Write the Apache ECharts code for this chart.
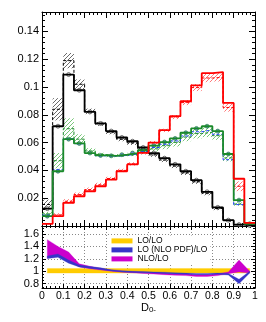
<!DOCTYPE html>
<html><head><meta charset="utf-8">
<script src="https://cdn.jsdelivr.net/npm/echarts@6/dist/echarts.min.js"></script>
<style>html,body{margin:0;padding:0;background:#fff}#c{width:266px;height:322px}</style>
</head><body><div id="c"></div>
<script>
// ---- data ----
const binEdges = [0, 0.05, 0.1, 0.15, 0.2, 0.25, 0.3, 0.35, 0.4, 0.45, 0.5, 0.55, 0.6, 0.65, 0.7, 0.75, 0.8, 0.85, 0.9, 0.95, 1.0];
const blackLO  = [0.0125, 0.0718, 0.1090, 0.0977, 0.0821, 0.0738, 0.0683, 0.0637, 0.0610, 0.0565, 0.0525, 0.0488, 0.0444, 0.0394, 0.0330, 0.0246, 0.0134, 0.0042, 0.0010, 0.0004];
const blackNLO = [0.0155, 0.0840, 0.1190, 0.1020, 0.0825, 0.0735, 0.0675, 0.0625, 0.0598, 0.0552, 0.0512, 0.0475, 0.0432, 0.0382, 0.0318, 0.0236, 0.0126, 0.0038, 0.0009, 0.0004];
const blackErr = [0.0035, 0.0080, 0.0055, 0.0035, 0.0020, 0.0015, 0.0015, 0.0015, 0.0015, 0.0015, 0.0015, 0.0015, 0.0015, 0.0015, 0.0015, 0.0015, 0.0012, 0.0008, 0.0004, 0.0002];
const greenLO  = [0.0071, 0.0394, 0.0625, 0.0594, 0.0525, 0.0508, 0.0505, 0.0513, 0.0525, 0.0545, 0.0578, 0.0604, 0.0630, 0.0671, 0.0702, 0.0718, 0.0683, 0.0518, 0.0186, 0.0016];
const greenNLO = [0.0087, 0.0470, 0.0700, 0.0625, 0.0540, 0.0515, 0.0505, 0.0508, 0.0515, 0.0530, 0.0555, 0.0578, 0.0602, 0.0640, 0.0665, 0.0675, 0.0650, 0.0490, 0.0158, 0.0015];
const greenErr = [0.0015, 0.0055, 0.0075, 0.0035, 0.0020, 0.0012, 0.0010, 0.0010, 0.0012, 0.0015, 0.0020, 0.0025, 0.0030, 0.0030, 0.0035, 0.0035, 0.0030, 0.0025, 0.0012, 0.0003];
const blueNLOPDF = [0.0078, 0.0405, 0.0628, 0.0592, 0.0522, 0.0505, 0.0502, 0.0508, 0.0518, 0.0536, 0.0565, 0.0588, 0.0612, 0.0648, 0.0678, 0.0692, 0.0660, 0.0477, 0.0154, 0.0015];
const redLO    = [0.0016, 0.0071, 0.0166, 0.0214, 0.0250, 0.0286, 0.0334, 0.0394, 0.0443, 0.0526, 0.0600, 0.0690, 0.0790, 0.0898, 0.1012, 0.1100, 0.1108, 0.0886, 0.0340, 0.0022];
const redNLO   = [0.0018, 0.0080, 0.0178, 0.0226, 0.0262, 0.0296, 0.0342, 0.0400, 0.0447, 0.0528, 0.0600, 0.0688, 0.0784, 0.0888, 0.0996, 0.1065, 0.1070, 0.0853, 0.0286, 0.0020];
const redErr   = [0.0004, 0.0012, 0.0015, 0.0015, 0.0015, 0.0015, 0.0012, 0.0012, 0.0012, 0.0012, 0.0012, 0.0012, 0.0015, 0.0018, 0.0025, 0.0030, 0.0030, 0.0030, 0.0035, 0.0005];

const ratioX    = [0.025, 0.075, 0.125, 0.175, 0.225, 0.275, 0.325, 0.375, 0.425, 0.475, 0.525, 0.575, 0.625, 0.675, 0.725, 0.775, 0.825, 0.875, 0.925, 0.975];
const loloLow   = [0.97, 0.97, 0.97, 0.97, 0.97, 0.97, 0.97, 0.97, 0.97, 0.97, 0.97, 0.97, 0.97, 0.97, 0.97, 0.97, 0.97, 0.97, 0.97, 0.97];
const loloHigh  = [1.045, 1.045, 1.045, 1.045, 1.045, 1.045, 1.045, 1.045, 1.045, 1.045, 1.045, 1.045, 1.045, 1.045, 1.045, 1.045, 1.045, 1.045, 1.045, 1.045];
const pdfLow    = [1.205, 1.225, 1.13, 1.07, 1.05, 1.03, 1.005, 0.99, 0.98, 0.975, 0.97, 0.965, 0.955, 0.95, 0.945, 0.945, 0.95, 0.94, 0.80, 0.97];
const pdfHigh   = [1.245, 1.28, 1.18, 1.10, 1.075, 1.055, 1.025, 1.01, 1.0, 0.995, 0.99, 0.985, 0.975, 0.97, 0.965, 0.965, 0.97, 0.965, 0.87, 1.0];
const nloLow    = [1.21, 1.24, 1.17, 1.07, 1.04, 1.02, 1.0, 0.985, 0.975, 0.965, 0.955, 0.945, 0.935, 0.93, 0.915, 0.915, 0.93, 0.96, 0.99, 0.97];
const nloHigh   = [1.51, 1.40, 1.31, 1.12, 1.08, 1.05, 1.02, 1.005, 0.995, 0.985, 0.98, 0.97, 0.965, 0.96, 0.945, 0.945, 0.96, 0.99, 1.18, 1.0];

// ---- helpers ----
const FONT = "'Liberation Sans', Arial, sans-serif";
const GREEN = '#1a8a2a', RED = '#ff0000', BLUE = '#2040ff';

function hatch(color) {
  const c = document.createElement('canvas'); c.width = 4; c.height = 4;
  const g = c.getContext('2d'); g.strokeStyle = color; g.lineWidth = 0.8;
  g.beginPath(); g.moveTo(0, 4); g.lineTo(4, 0); g.moveTo(-1, 1); g.lineTo(1, -1); g.moveTo(3, 5); g.lineTo(5, 3); g.stroke();
  return c;
}
function stepData(vals) {
  const d = vals.map((v, i) => [binEdges[i], v]);
  d.push([binEdges[vals.length], vals[vals.length - 1]]);
  return d;
}
function hist(vals, color, dashed, width) {
  return { type: 'line', xAxisIndex: 0, yAxisIndex: 0, step: 'end', data: stepData(vals), symbol: 'none', silent: true,
    lineStyle: { color: color, width: width, type: dashed ? [3, 2] : 'solid' } };
}
function band(center, err, color) {
  const pat = { image: hatch(color), repeat: 'repeat' };
  return { type: 'custom', xAxisIndex: 0, yAxisIndex: 0, silent: true, clip: true,
    data: center.map((v, i) => [binEdges[i], binEdges[i + 1], v - err[i], v + err[i]]),
    encode: { x: [0, 1], y: [2, 3] },
    renderItem: (params, api) => {
      const p0 = api.coord([api.value(0), api.value(3)]);
      const p1 = api.coord([api.value(1), api.value(2)]);
      return { type: 'rect', shape: { x: p0[0], y: p0[1], width: p1[0] - p0[0], height: p1[1] - p0[1] }, style: { fill: pat } };
    } };
}
function markers(vals, fill, border) {
  return { type: 'scatter', xAxisIndex: 0, yAxisIndex: 0, silent: true, symbol: 'circle', symbolSize: 4,
    data: vals.map((v, i) => [(binEdges[i] + binEdges[i + 1]) / 2, v]),
    itemStyle: { color: fill, borderColor: border, borderWidth: 0.8 } };
}
function ratioBand(name, low, high, color) {
  return { name: name, type: 'custom', xAxisIndex: 2, yAxisIndex: 2, silent: true, clip: true,
    itemStyle: { color: color },
    data: [[ratioX[0], low[0]]],
    renderItem: (params, api) => {
      const top = ratioX.map((x, i) => api.coord([x, high[i]]));
      const bot = ratioX.map((x, i) => api.coord([x, low[i]])).reverse();
      return { type: 'polygon', shape: { points: top.concat(bot) }, style: { fill: color, stroke: color, lineWidth: 0.3 } };
    } };
}

const tickCommon = { inside: true, length: 6, lineStyle: { color: '#000', width: 1 } };
const lineCommon = { show: true, onZero: false, lineStyle: { color: '#000', width: 1 } };
function xAx(grid, pos, showLabel, extra) {
  return Object.assign({ type: 'value', gridIndex: grid, position: pos, min: 0, max: 1, interval: 0.1,
    axisLine: lineCommon, axisTick: Object.assign({}, tickCommon, { length: grid === 0 ? 6 : 4 }),
    minorTick: { show: true, splitNumber: 5, length: grid === 0 ? 3 : 2, lineStyle: { color: '#000' } },
    axisLabel: { show: showLabel, fontSize: 10.5, color: '#000', fontFamily: FONT, margin: 3 },
    splitLine: { show: grid === 1 && pos === 'bottom', lineStyle: { color: '#888', type: [1, 2], width: 1 } } }, extra || {});
}
function yAx(grid, pos, showLabel) {
  const base = grid === 0 ? { min: 0, max: 0.154, interval: 0.02 } : { min: 0.73, max: 1.73, splitNumber: 5 };
  return Object.assign({ type: 'value', gridIndex: grid, position: pos,
    axisLine: lineCommon, axisTick: Object.assign({}, tickCommon, { length: grid === 0 ? 6 : 4 }),
    minorTick: { show: true, splitNumber: grid === 0 ? 5 : 4, length: grid === 0 ? 3 : 2, lineStyle: { color: '#000' } },
    axisLabel: { show: showLabel, fontSize: 11, color: '#000', fontFamily: FONT, margin: 3, showMinLabel: false, showMaxLabel: false },
    splitLine: { show: grid === 1 && pos === 'left', lineStyle: { color: '#888', type: [1, 2], width: 1 } } }, base);
}

const series = [
  band(blackNLO, blackErr, '#444'),
  band(greenNLO, greenErr, '#55b855'),
  band(redNLO, redErr, '#ff5555'),
  hist(blackNLO, '#000', true, 1),
  hist(greenNLO, GREEN, true, 1),
  hist(blueNLOPDF, BLUE, true, 1),
  hist(redNLO, RED, true, 1),
  hist(blackLO, '#000', false, 1.8),
  hist(greenLO, GREEN, false, 1.8),
  hist(redLO, RED, false, 1.8),
  markers(blackLO, '#ddd', '#333'),
  markers(greenLO, '#4a6ac0', GREEN),
  ratioBand('LO/LO', loloLow, loloHigh, '#ffcc00'),
  ratioBand('NLO/LO', nloLow, nloHigh, '#cc00cc'),
  ratioBand('LO (NLO PDF)/LO', pdfLow, pdfHigh, '#3535c8')
];

const chart = echarts.init(document.getElementById('c'), null, { renderer: 'canvas' });
chart.setOption({
  animation: false,
  backgroundColor: '#fff',
  grid: [
    { left: 42, right: 11, top: 12, height: 214 },
    { left: 42, right: 11, top: 226, height: 62 }
  ],
  xAxis: [
    xAx(0, 'bottom', false),
    xAx(0, 'top', false),
    xAx(1, 'bottom', true, {
      name: '{a|D}{b|0-}', nameLocation: 'middle', nameGap: 13,
      nameTextStyle: { color: '#000', fontFamily: FONT, rich: {
        a: { fontSize: 11, lineHeight: 11, padding: [0, 0, 2, 0], verticalAlign: 'top', fontFamily: FONT, color: '#000' },
        b: { fontSize: 8, lineHeight: 8, verticalAlign: 'bottom', fontFamily: FONT, color: '#000' } } }
    }),
    xAx(1, 'top', false)
  ],
  yAxis: [ yAx(0, 'left', true), yAx(0, 'right', false), yAx(1, 'left', true), yAx(1, 'right', false) ],
  legend: {
    data: ['LO/LO', 'LO (NLO PDF)/LO', 'NLO/LO'], orient: 'vertical', left: 108, top: 235.4,
    padding: [1, 3, 1, 3.5], itemGap: 0, itemWidth: 21, itemHeight: 5, icon: 'rect',
    backgroundColor: '#fff', selectedMode: false, itemStyle: { borderWidth: 0 },
    textStyle: { fontSize: 8.5, lineHeight: 8.75, fontFamily: FONT, color: '#000' }
  },
  series: series
});
</script>
</body></html>
